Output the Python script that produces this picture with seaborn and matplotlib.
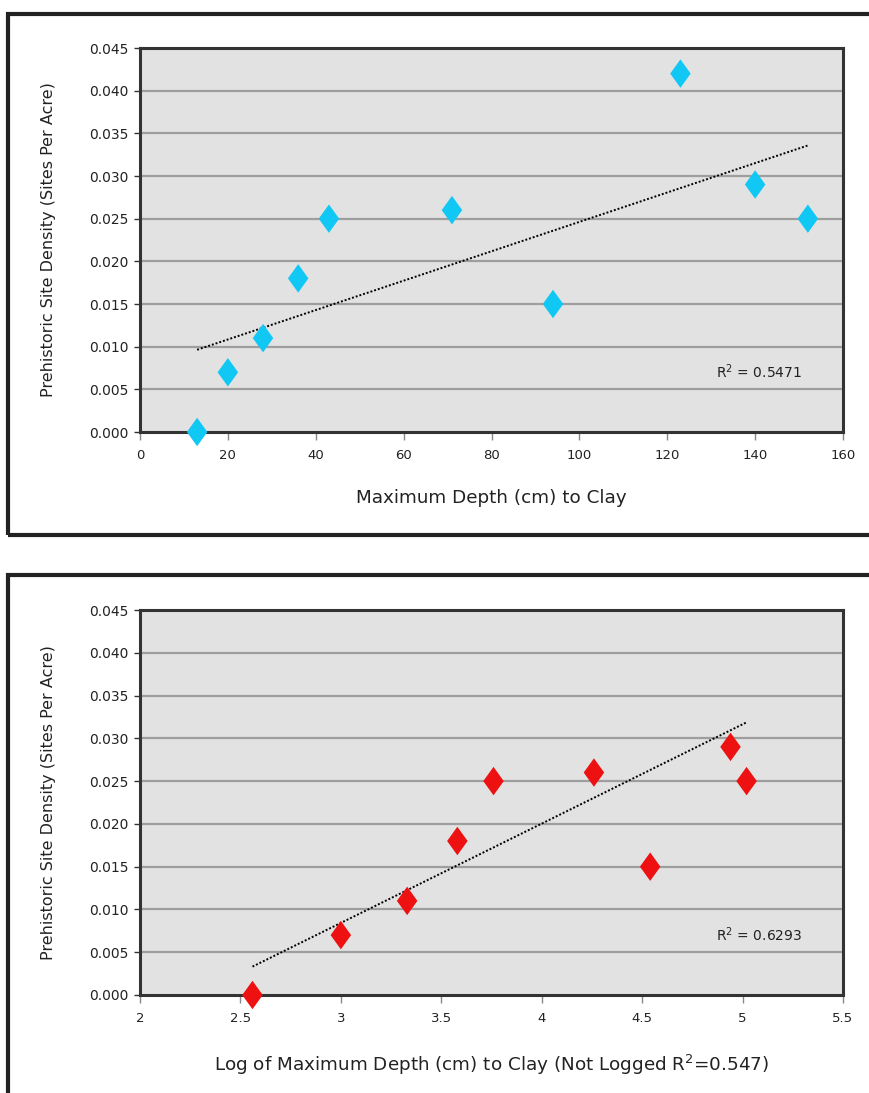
import numpy as np
import pandas as pd
import matplotlib
matplotlib.use("Agg")
import matplotlib.pyplot as plt
import matplotlib.patches as patches
import seaborn as sns

# Data
depth_cm = [13, 20, 28, 36, 43, 71, 94, 123, 140, 152]
site_density = [0.000, 0.007, 0.011, 0.018, 0.025, 0.026, 0.015, 0.042, 0.029, 0.025]

# log panel: the trend uses all ten sites, the 0.042 site is not drawn as a marker
log_depth_fit = [2.56, 3.00, 3.33, 3.58, 3.76, 4.26, 4.54, 4.81, 4.94, 5.02]
log_density_fit = [0.000, 0.007, 0.011, 0.018, 0.025, 0.026, 0.015, 0.042, 0.029, 0.025]
log_depth = [2.56, 3.00, 3.33, 3.58, 3.76, 4.26, 4.54, 4.94, 5.02]
log_site_density = [0.000, 0.007, 0.011, 0.018, 0.025, 0.026, 0.015, 0.029, 0.025]

top_xticks = [0, 20, 40, 60, 80, 100, 120, 140, 160]
bottom_xticks = [2, 2.5, 3, 3.5, 4, 4.5, 5, 5.5]
yticks = [0.000, 0.005, 0.010, 0.015, 0.020, 0.025, 0.030, 0.035, 0.040, 0.045]

top_r2 = "R$^2$ = 0.5471"
bottom_r2 = "R$^2$ = 0.6293"
ylabel = "Prehistoric Site Density (Sites Per Acre)"
top_xlabel = "Maximum Depth (cm) to Clay"
bottom_xlabel = "Log of Maximum Depth (cm) to Clay (Not Logged R$^2$=0.547)"

sns.set_style("white")
plt.rcParams['font.family'] = ['DejaVu Sans']

# Excel-like diamond marker (a bit taller than wide)
diamond = [(0, 1), (0.72, 0), (0, -1), (-0.72, 0), (0, 1)]


def draw_panel(ax, x, y, fit_x, fit_y, color, xticks, xlabel, r2_text):
    '''Draw one scatter panel with a linear trend line.'''
    df = pd.DataFrame({"x": x, "y": y})
    df_fit = pd.DataFrame({"x": fit_x, "y": fit_y})
    ax.set_facecolor("#e2e2e2")
    for t in yticks[1:-1]:
        ax.axhline(t, color="#9e9e9e", lw=1.6, zorder=0)
    sns.regplot(data=df_fit, x="x", y="y", ax=ax, scatter=False, ci=None, truncate=True,
                line_kws=dict(color="black", lw=1.4, ls=(0, (1, 1)), zorder=2))
    sns.scatterplot(data=df, x="x", y="y", ax=ax, color=color, marker=diamond,
                    s=420, edgecolor="none", zorder=3, clip_on=False)
    ax.set_xlim(xticks[0], xticks[-1])
    ax.set_ylim(0, 0.045)
    ax.set_xticks(xticks)
    ax.set_xticklabels([f"{t:g}" for t in xticks], fontsize=9.5, color="#222222")
    ax.set_yticks(yticks)
    ax.set_yticklabels([f"{t:.3f}" for t in yticks], fontsize=10, color="#222222")
    ax.tick_params(axis="x", direction="out", length=6, width=1, color="#888888", pad=6, bottom=True)
    ax.tick_params(axis="y", direction="out", length=4, width=1, color="#333333", pad=4, left=True)
    for side in ax.spines.values():
        side.set_color("#333333")
        side.set_linewidth(2.2)
    ax.set_xlabel(xlabel, fontsize=13.2, color="#222222", labelpad=20)
    ax.set_ylabel(ylabel, fontsize=11.5, color="#222222", labelpad=24)
    ax.text(0.88, 0.157, r2_text, transform=ax.transAxes, ha="center", va="center",
            fontsize=10, color="#222222")


fig = plt.figure(figsize=(8.7, 10.93), dpi=100)

# chart frames (cut off at the right / bottom like the source)
fig.patches.append(patches.Rectangle((8 / 870, 1 - 535 / 1093), 1.0, (535 - 14) / 1093,
                                     transform=fig.transFigure, fill=False, lw=3, ec="#222222"))
fig.patches.append(patches.Rectangle((8 / 870, -0.01), 1.0, 1 - 575 / 1093 + 0.01,
                                     transform=fig.transFigure, fill=False, lw=3, ec="#222222"))

ax_top = fig.add_axes([140 / 870, 1 - 432 / 1093, (843 - 140) / 870, (432 - 48) / 1093])
ax_bot = fig.add_axes([140 / 870, 1 - 995 / 1093, (843 - 140) / 870, (995 - 610) / 1093])

draw_panel(ax_top, depth_cm, site_density, depth_cm, site_density,
           "#11c8f5", top_xticks, top_xlabel, top_r2)
draw_panel(ax_bot, log_depth, log_site_density, log_depth_fit, log_density_fit,
           "#ee1111", bottom_xticks, bottom_xlabel, bottom_r2)

fig.savefig("out.png", dpi=100)
